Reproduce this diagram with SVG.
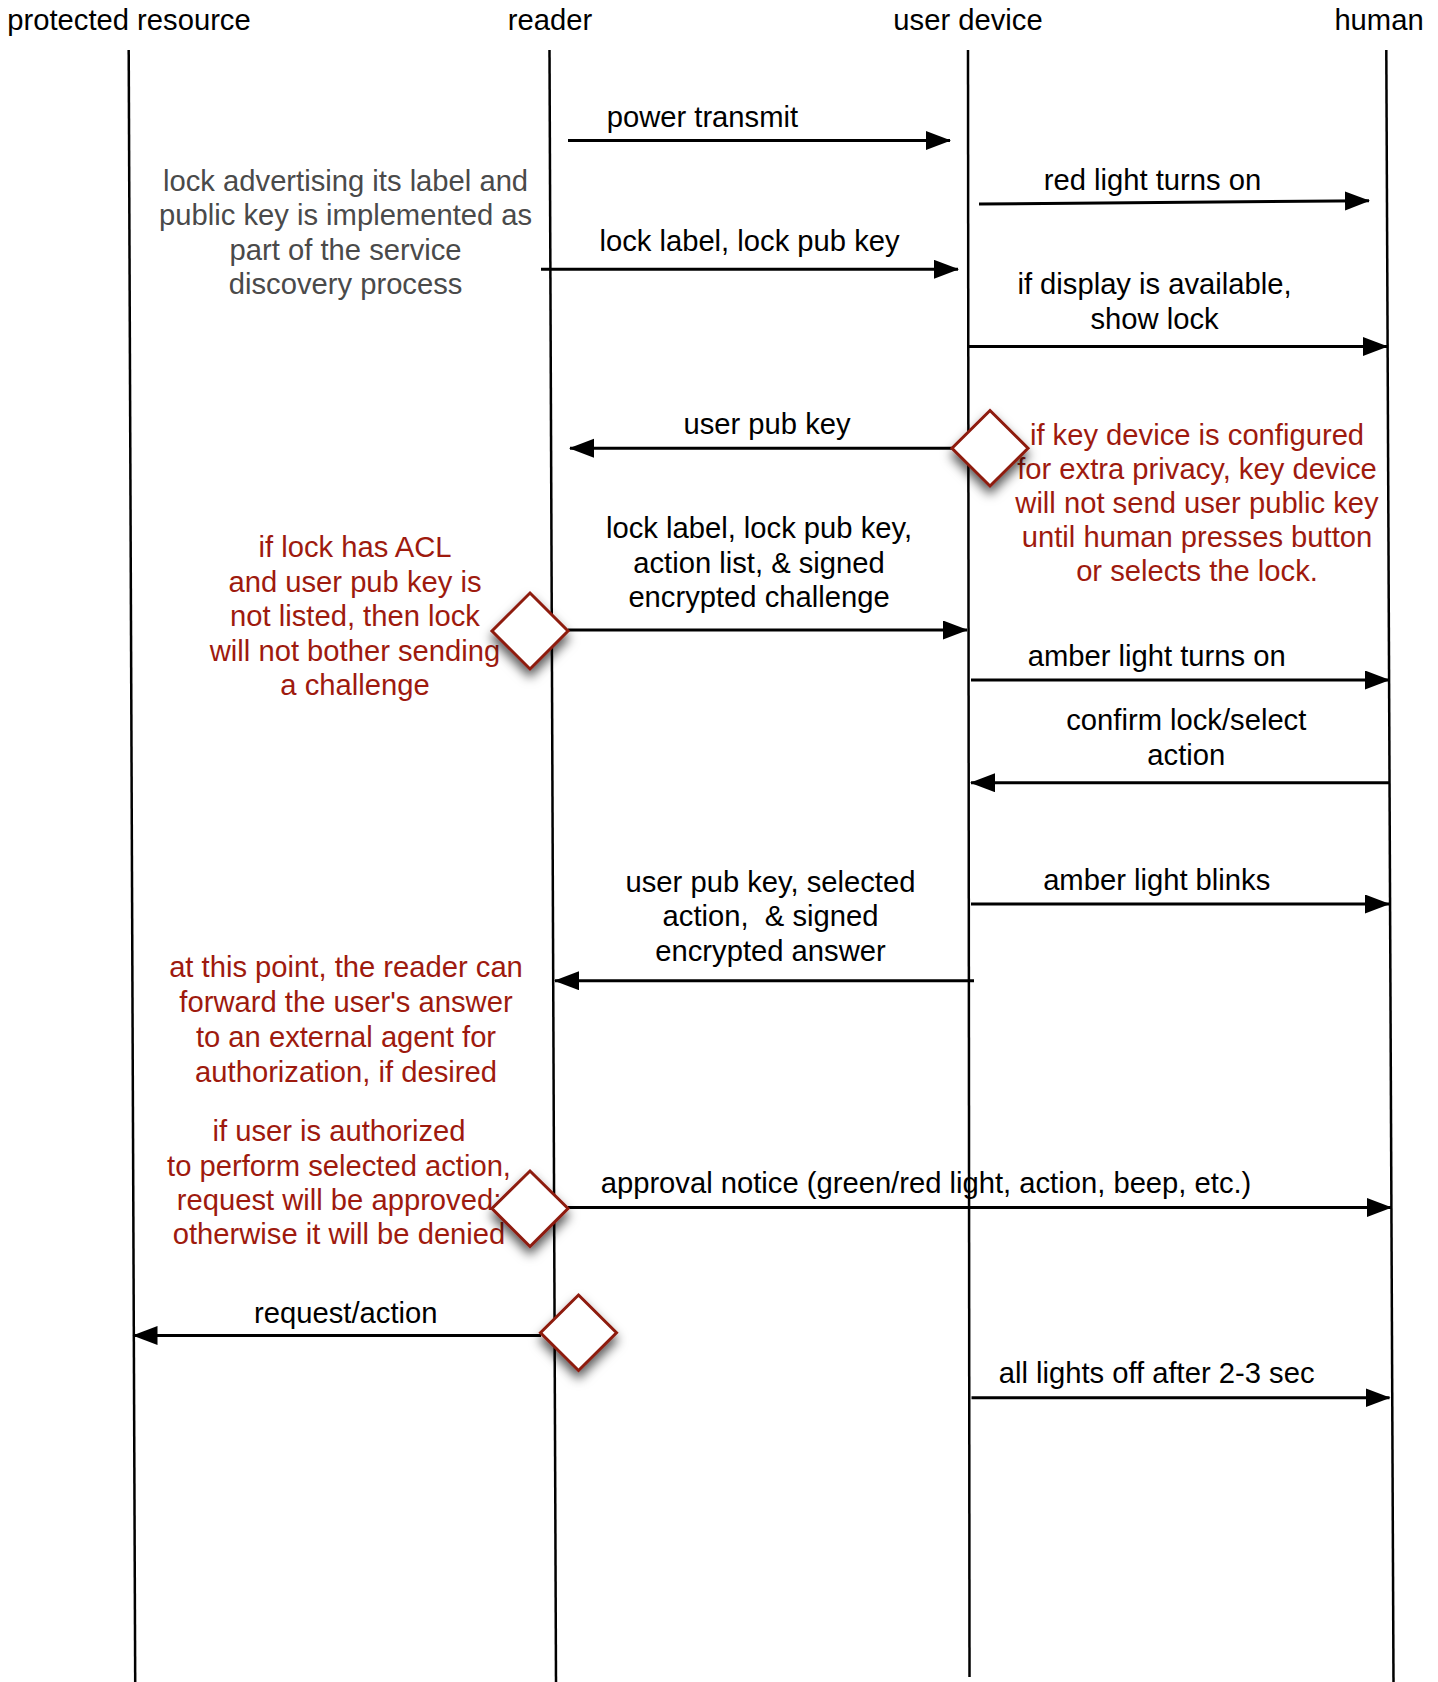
<svg xmlns="http://www.w3.org/2000/svg" width="1438" height="1682" viewBox="0 0 1438 1682">
<style>
text{font-family:"Liberation Sans",Arial,Helvetica,sans-serif;font-size:29.2px;text-anchor:middle;white-space:pre}
.hdr{fill:#000}
.lbl{fill:#000}
.gray{fill:#4a4a4a}
.red{fill:#9e1a0e}
.life{stroke:#000;stroke-width:2.5;fill:none}
.msg{stroke:#000;stroke-width:3;fill:none;marker-end:url(#ah)}
.dia{fill:#fff;stroke:#8e1a10;stroke-width:3;filter:url(#sh)}
</style>
<defs>
<marker id="ah" markerUnits="userSpaceOnUse" markerWidth="26" markerHeight="20" refX="24" refY="9.5" orient="auto">
<path d="M0,0 L25,9.5 L0,19 z" fill="#000"/>
</marker>
<filter id="sh" x="-50%" y="-50%" width="200%" height="200%">
<feDropShadow dx="0" dy="7" stdDeviation="5.5" flood-color="#000" flood-opacity="0.65"/>
</filter>
</defs>
<rect width="1438" height="1682" fill="#fff"/>

<g id="lifelines">
<g id="protected-resource">
<text class="hdr" x="129" y="29.5">protected resource</text>
<line class="life" x1="128.7" y1="50" x2="135.2" y2="1682"/>
</g>
<g id="reader">
<text class="hdr" x="550" y="29.5">reader</text>
<line class="life" x1="549.5" y1="50" x2="556" y2="1682"/>
</g>
<g id="user-device">
<text class="hdr" x="968" y="29.5">user device</text>
<line class="life" x1="968" y1="50" x2="969.5" y2="1677"/>
</g>
<g id="human">
<text class="hdr" x="1379" y="29.5">human</text>
<line class="life" x1="1386.3" y1="50" x2="1393.5" y2="1682"/>
</g>
</g>

<g id="annotations">
<g id="note-discovery">
<text class="gray" x="345.6" y="190.5">lock advertising its label and</text>
<text class="gray" x="345.6" y="225">public key is implemented as</text>
<text class="gray" x="345.6" y="259.5">part of the service</text>
<text class="gray" x="345.6" y="294">discovery process</text>
</g>
<g id="note-privacy">
<text class="red" x="1197" y="444.5">if key device is configured</text>
<text class="red" x="1197" y="478.7">for extra privacy, key device</text>
<text class="red" x="1197" y="512.9">will not send user public key</text>
<text class="red" x="1197" y="547.1">until human presses button</text>
<text class="red" x="1197" y="581.2">or selects the lock.</text>
</g>
<g id="note-acl">
<text class="red" x="355" y="557.3">if lock has ACL</text>
<text class="red" x="355" y="591.7">and user pub key is</text>
<text class="red" x="355" y="626.1">not listed, then lock</text>
<text class="red" x="355" y="660.5">will not bother sending</text>
<text class="red" x="355" y="694.8">a challenge</text>
</g>
<g id="note-forward">
<text class="red" x="346" y="977">at this point, the reader can</text>
<text class="red" x="346" y="1012">forward the user's answer</text>
<text class="red" x="346" y="1046.8">to an external agent for</text>
<text class="red" x="346" y="1081.5">authorization, if desired</text>
</g>
<g id="note-authorized">
<text class="red" x="339" y="1141">if user is authorized</text>
<text class="red" x="339" y="1175.5">to perform selected action,</text>
<text class="red" x="339" y="1209.8">request will be approved;</text>
<text class="red" x="339" y="1244.2">otherwise it will be denied</text>
</g>
</g>

<g id="connectors">
<g id="m-power">
<line class="msg" x1="568" y1="140.5" x2="950" y2="140.5"/>
<text class="lbl" x="702.4" y="127">power transmit</text>
</g>
<g id="m-red">
<line class="msg" x1="979" y1="204" x2="1369" y2="200.8"/>
<text class="lbl" x="1152.5" y="190">red light turns on</text>
</g>
<g id="m-locklabel">
<line class="msg" x1="541" y1="269.3" x2="958" y2="269.3"/>
<text class="lbl" x="749.5" y="250.7">lock label, lock pub key</text>
</g>
<g id="m-display">
<line class="msg" x1="968" y1="346.5" x2="1387" y2="346.5"/>
<text class="lbl" x="1154.5" y="293.5">if display is available,</text>
<text class="lbl" x="1154.5" y="328.5">show lock</text>
</g>
<g id="m-userpub">
<line class="msg" x1="952" y1="448.3" x2="570" y2="448.3"/>
<text class="lbl" x="767" y="434.3">user pub key</text>
</g>
<g id="m-challenge">
<line class="msg" x1="568" y1="630" x2="967" y2="630"/>
<text class="lbl" x="759" y="538.2">lock label, lock pub key,</text>
<text class="lbl" x="759" y="573">action list, &amp; signed</text>
<text class="lbl" x="759" y="607">encrypted challenge</text>
</g>
<g id="m-amber-on">
<line class="msg" x1="971" y1="680" x2="1389" y2="680"/>
<text class="lbl" x="1156.7" y="665.6">amber light turns on</text>
</g>
<g id="m-confirm">
<line class="msg" x1="1389.5" y1="782.7" x2="971" y2="782.7"/>
<text class="lbl" x="1186.3" y="729.6">confirm lock/select</text>
<text class="lbl" x="1186.3" y="764.6">action</text>
</g>
<g id="m-amber-blink">
<line class="msg" x1="971" y1="904" x2="1389" y2="904"/>
<text class="lbl" x="1156.7" y="889.6">amber light blinks</text>
</g>
<g id="m-answer">
<line class="msg" x1="974" y1="980.7" x2="555" y2="980.7"/>
<text class="lbl" x="770.5" y="892">user pub key, selected</text>
<text class="lbl" x="770.5" y="926.4">action,  &amp; signed</text>
<text class="lbl" x="770.5" y="961.4">encrypted answer</text>
</g>
<g id="m-approval">
<line class="msg" x1="568" y1="1207.5" x2="1391" y2="1207.5"/>
<text class="lbl" x="926" y="1193">approval notice (green/red light, action, beep, etc.)</text>
</g>
<g id="m-request">
<line class="msg" x1="541" y1="1335.5" x2="133.5" y2="1335.5"/>
<text class="lbl" x="345.8" y="1323">request/action</text>
</g>
<g id="m-lightsoff">
<line class="msg" x1="971.5" y1="1397.7" x2="1389.5" y2="1397.7"/>
<text class="lbl" x="1156.6" y="1383">all lights off after 2-3 sec</text>
</g>
</g>

<g id="decision-privacy"><path class="dia" d="M990,410.5 L1028,448.3 L990,486 L952,448.3 Z"/></g>
<g id="decision-acl"><path class="dia" d="M530,593 L568,631 L530,669 L492,631 Z"/></g>
<g id="decision-approve"><path class="dia" d="M530,1171 L568,1208.5 L530,1246.5 L492,1208.5 Z"/></g>
<g id="decision-request"><path class="dia" d="M578.5,1295 L616.5,1332.7 L578.5,1370.5 L540.5,1332.7 Z"/></g>
</svg>
